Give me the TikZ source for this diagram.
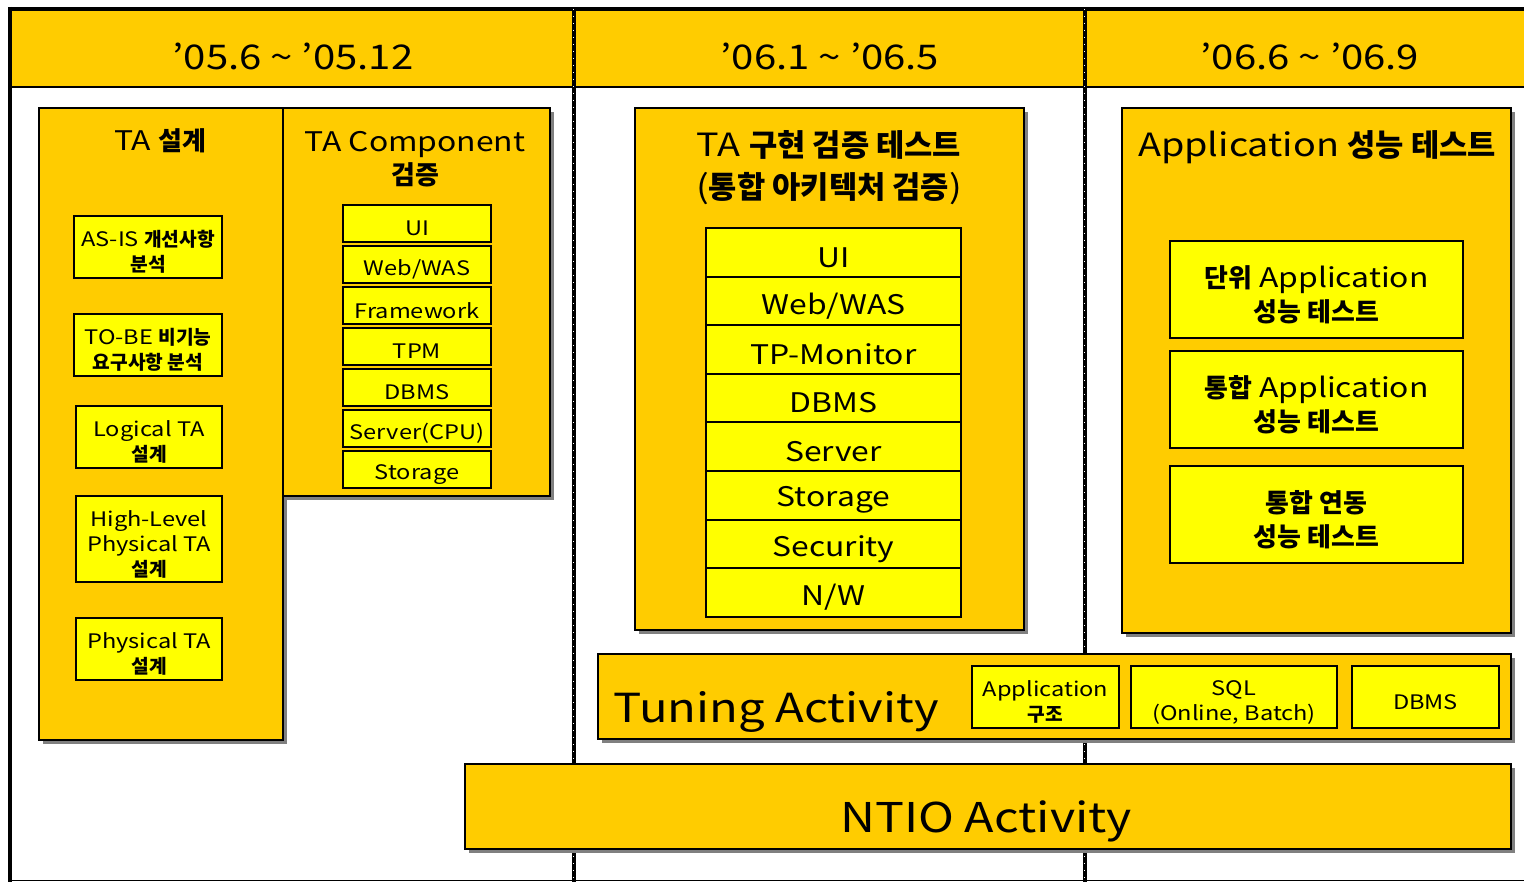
\documentclass[tikz,border=0pt]{standalone}
\usepackage{fontspec}
\setmainfont{Noto Sans CJK KR}[FakeStretch=1.18]
\newfontfamily\kor{Noto Sans CJK KR}[Scale=0.96]
\newcommand\ko[1]{{\kor\bfseries #1}}
\usetikzlibrary{shadows}
\definecolor{tagold}{RGB}{255,204,0}
\definecolor{tayellow}{RGB}{255,255,0}
\definecolor{shadowgray}{RGB}{128,128,128}

\tikzset{
  phase/.style={draw=black,line width=2pt,fill=tagold,anchor=north west,inner sep=0pt,
    drop shadow={shadow xshift=4pt,shadow yshift=-4pt,fill=shadowgray,opacity=1}},
  item/.style={draw=black,line width=2pt,fill=tayellow,anchor=north west,inner sep=0pt},
  period/.style={font=\fontsize{34}{40}\selectfont},
  boxtitle/.style={font=\fontsize{27}{33}\selectfont,align=center},
  bigtitle/.style={font=\fontsize{32}{42}\selectfont,align=center},
  smalltext/.style={font=\fontsize{20}{25}\selectfont,align=center,yshift=-5pt},
  rowtext/.style={font=\fontsize{27}{32}\selectfont,yshift=-5pt},
  apptext/.style={font=\fontsize{27}{34}\selectfont,align=center,yshift=-5pt},
}

\begin{document}
\begin{tikzpicture}[x=1pt,y=-1pt]
  \useasboundingbox (0,0) rectangle (1524,882);
  % header band and frame:
  \fill[tagold] (10,9) rectangle (1524,87);
  \draw[line width=4.5pt] (8,9) -- (1524,9);
  \draw[line width=2.5pt] (10,87) -- (1524,87);
  \draw[line width=1.5pt] (10,880.5) -- (1524,880.5);
  \draw[line width=4.5pt] (10,7) -- (10,882);
  % period separators:
  \foreach \x in {574,1085}{
    \draw[line width=3.5pt] (\x,9) -- (\x,882);
    \draw[white,line width=0.4pt,dash pattern=on 1pt off 6pt] (\x-0.9,9) -- (\x-0.9,882);
  }
  \node[period] (p1) at (293,56) {'05.6 \textasciitilde\ '05.12};
  \node[period] (p2) at (830,56) {'06.1 \textasciitilde\ '06.5};
  \node[period] (p3) at (1310,56) {'06.6 \textasciitilde\ '06.9};

  % phase boxes:
  \node[phase,minimum width=244,minimum height=632] (design) at (38,107) {};
  \node[phase,minimum width=267,minimum height=388] (comp) at (282,107) {};
  \node[phase,minimum width=389,minimum height=522] (impl) at (634,107) {};
  \node[phase,minimum width=389,minimum height=525] (perf) at (1121,107) {};
  \node[phase,minimum width=913,minimum height=85] (tuning) at (597,653) {};
  \node[phase,minimum width=1046,minimum height=85] (ntio) at (464,763) {};

  \node[boxtitle] (designtitle) at (160,141) {TA \ko{설계}};
  \node[boxtitle] (comptitle) at (415,159) {TA Component\\\ko{검증}};
  \node[bigtitle] (impltitle) at (829,168) {TA \ko{구현 검증 테스트}\\(\ko{통합 아키텍처 검증})};
  \node[bigtitle] (perftitle) at (1317,147) {Application \ko{성능 테스트}};

  % TA design steps:
  \node[item,minimum width=148,minimum height=62] (asis) at (73,215) {};
  \node[item,minimum width=148,minimum height=62] (tobe) at (73,313) {};
  \node[item,minimum width=146,minimum height=62] (logical) at (75,405) {};
  \node[item,minimum width=146,minimum height=86] (highlevel) at (75,495) {};
  \node[item,minimum width=146,minimum height=62] (physical) at (75,617) {};
  \node[smalltext] at (asis.center) {AS-IS \ko{개선사항}\\\ko{분석}};
  \node[smalltext] at (tobe.center) {TO-BE \ko{비기능}\\\ko{요구사항 분석}};
  \node[smalltext] at (logical.center) {Logical TA\\\ko{설계}};
  \node[smalltext] at (highlevel.center) {High-Level\\Physical TA\\\ko{설계}};
  \node[smalltext] at (physical.center) {Physical TA\\\ko{설계}};

  % components:
  \foreach \name [count=\i from 0] in {UI,Web/WAS,Framework,TPM,DBMS,Server(CPU),Storage}{
    \node[item,minimum width=148,minimum height=37] (comp\i) at (342,{204+41*\i}) {};
    \node[smalltext] at (comp\i.center) {\name};
  }

  % architecture layers:
  \foreach \name [count=\i from 0] in {UI,Web/WAS,TP-Monitor,DBMS,Server,Storage,Security,N/W}{
    \node[item,minimum width=255,minimum height=48.6] (layer\i) at (705,{227+48.6*\i}) {};
    \node[rowtext] at (layer\i.center) {\name};
  }

  % performance tests:
  \node[item,minimum width=293,minimum height=97] (unit) at (1169,240) {};
  \node[item,minimum width=293,minimum height=97] (integ) at (1169,350) {};
  \node[item,minimum width=293,minimum height=97] (link) at (1169,465) {};
  \node[apptext] at (unit.center) {\ko{단위} Application\\\ko{성능 테스트}};
  \node[apptext] at (integ.center) {\ko{통합} Application\\\ko{성능 테스트}};
  \node[apptext] at (link.center) {\ko{통합 연동}\\\ko{성능 테스트}};

  % tuning and NTIO:
  \node[font=\fontsize{40}{46}\selectfont] (tuninglabel) at (776,712) {Tuning Activity};
  \node[item,minimum width=147,minimum height=62] (tapp) at (971,665) {};
  \node[item,minimum width=206,minimum height=62] (tsql) at (1130,665) {};
  \node[item,minimum width=147,minimum height=62] (tdbms) at (1351,665) {};
  \node[smalltext] at (tapp.center) {Application\\\ko{구조}};
  \node[smalltext] at (tsql.center) {SQL\\(Online, Batch)};
  \node[smalltext] at (tdbms.center) {DBMS};
  \node[font=\fontsize{41}{48}\selectfont] (ntiolabel) at (986,821) {NTIO Activity};
\end{tikzpicture}
\end{document}
